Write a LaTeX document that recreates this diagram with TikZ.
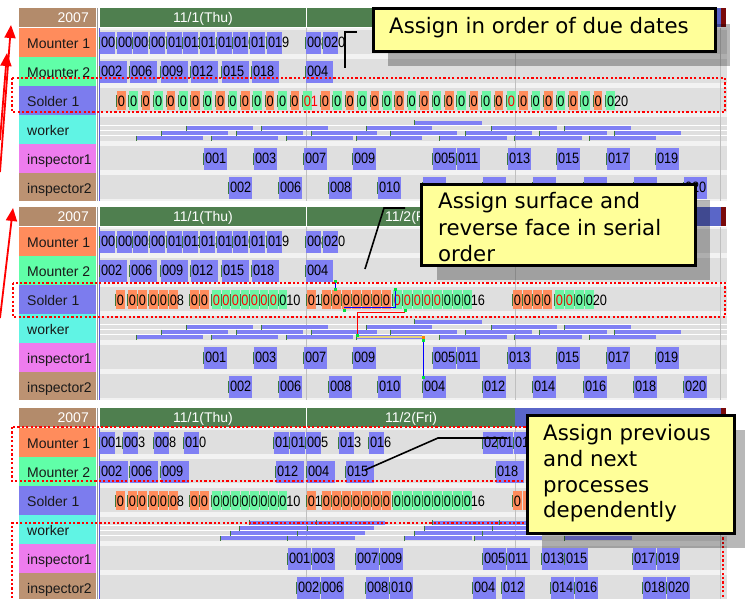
\documentclass[tikz,border=0pt]{standalone}
\usepackage{fontspec}
\setmainfont{Liberation Sans}
\newfontfamily\gfont[FakeStretch=0.85]{Liberation Sans}
\newfontfamily\cfont{DejaVu Sans}
\usetikzlibrary{arrows.meta}
\definecolor{vio}{HTML}{8080F4}
\definecolor{sorange}{HTML}{FF8C5C}
\definecolor{sgreen}{HTML}{6CF5A4}
\definecolor{lorange}{HTML}{FF8C5C}
\definecolor{lgreen}{HTML}{60FFA8}
\definecolor{lsolder}{HTML}{7C7CEE}
\definecolor{lworker}{HTML}{60F4E4}
\definecolor{linspa}{HTML}{EE7CEE}
\definecolor{linspb}{HTML}{BC9272}
\definecolor{hbrown}{HTML}{B38B6B}
\definecolor{hgreen}{HTML}{4F7F4F}
\definecolor{hblue}{HTML}{5A66C8}
\definecolor{hred}{HTML}{7A0A0A}
\definecolor{rowbg}{HTML}{F2F2F2}
\definecolor{band}{HTML}{DFDFDF}
\definecolor{tickc}{HTML}{3C7A3C}
\definecolor{cyel}{HTML}{FFFF99}
\definecolor{selg}{HTML}{00E040}
\definecolor{beige}{HTML}{E6D27A}
\definecolor{sepblue}{HTML}{5A5AE0}

\tikzset{
  gtxt/.style={anchor=base west, inner sep=0pt, font=\gfont\fontsize{15}{15}\selectfont},
  ltxt/.style={anchor=base west, inner sep=0pt, text=black!90, font=\fontsize{14}{14}\selectfont},
  htxt/.style={anchor=base, inner sep=0pt, text=white, font=\fontsize{14}{14}\selectfont},
  tick/.style={draw=tickc, line width=0.9pt},
  hl/.style={draw=red, line width=2.2pt, dash pattern=on 2.2pt off 2.2pt},
  callout/.style={draw=black, line width=2.5pt, fill=cyel, inner sep=0pt, anchor=north west},
  cshadow/.style={fill=black, fill opacity=0.28},
  ctext/.style={anchor=base west, inner sep=0pt, font=\cfont\fontsize{21.3}{26}\selectfont},
  pointer/.style={draw=black, line width=1.6pt},
  redarrow/.style={draw=red, line width=1.8pt, -{Triangle[length=13pt,width=11pt]}},
  gridl/.style={draw=black!25, line width=0.6pt},
}

% violet block: x, rowtop, width, fill, label
\newcommand\gb[5]{%
  \fill[#4] (#1,#2+4) rectangle ++(#3,21.5);
  \draw[tick] (#1-0.4,#2+9) -- ++(0,12);
  \node[gtxt] at (#1+0.8,#2+19) {#5};}
% block whose label is hidden behind a callout: x, rowtop, width
\newcommand\gbf[3]{%
  \fill[vio] (#1,#2+4) rectangle ++(#3,21.5);
  \draw[tick] (#1-0.4,#2+9) -- ++(0,12);}
% solder block: x, rowtop, width, fill, label, text colour
\newcommand\sbk[6]{%
  \fill[#4] (#1,#2+5) rectangle ++(#3,19);
  \draw[tick] (#1-0.5,#2+9) -- ++(0,12);
  \node[gtxt,text=#6] at (#1+0.6,#2+20) {#5};}
% worker bar: x1, x2, y
\newcommand\wb[3]{%
  \fill[vio] (#1,#3) rectangle (#2,#3+4);
  \draw[tick] (#1-0.4,#3-0.5) -- ++(0,5);}

\newcommand\pbase[1]{%
  \fill[hbrown] (19,8) rectangle (96,27);
  \node[ltxt,anchor=base east,text=white] (#1yr) at (89,22) {2007};
  \fill[hgreen] (100,8) rectangle (515,27);
  \fill[hblue] (515,8) rectangle (721,27);
  \fill[hred] (721,8) rectangle (726,27);
  \draw[white,line width=0.8pt] (306,8) -- (306,27);
  \node[htxt] (#1da) at (203,22) {11/1(Thu)};
  \fill[lorange] (19,28) rectangle (96,57);
  \fill[lgreen] (19,57) rectangle (96,86);
  \fill[lsolder] (19,86) rectangle (96,115);
  \fill[lworker] (19,115) rectangle (96,144);
  \fill[linspa] (19,144) rectangle (96,173);
  \fill[linspb] (19,173) rectangle (96,201);
  \node[ltxt] (#1la) at (27,48) {Mounter 1};
  \node[ltxt] (#1lb) at (27,77) {Mounter 2};
  \node[ltxt] (#1lc) at (27,106) {Solder 1};
  \node[ltxt] (#1ld) at (27,135) {worker};
  \node[ltxt] (#1le) at (27,164) {inspector1};
  \node[ltxt] (#1lf) at (27,193) {inspector2};
  \foreach \t in {28,57,86,115,144} {
    \fill[rowbg] (99,\t) rectangle (727,\t+29);
    \fill[band] (99,\t+2) rectangle (727,\t+26);}
  \fill[rowbg] (99,173) rectangle (727,201);
  \fill[band] (99,175) rectangle (727,199);
  \draw[white,line width=0.7pt] (99,125) -- (727,125) (99,130.5) -- (727,130.5) (99,135.5) -- (727,135.5);
  \draw[gridl] (306,28) -- (306,201) (515,28) -- (515,201) (720,28) -- (720,201);
  \draw[black!40,line width=1pt] (97,8) -- (97,201);
  \draw[sepblue,line width=1pt] (99,28) -- (99,201);}

\newcommand\mountersA{%
  \foreach \x/\l in {100/001,117/003,133/005,150/007,167/010,183/011,200/013,217/014,233/016,250/017,267/019,306/008,323/020} {\gb{\x}{28}{15}{vio}{\l}}
  \foreach \x/\l in {100/002,130/006,161/009,191/012,222/015,252/018,306/004} {\gb{\x}{57}{27}{vio}{\l}}}
\newcommand\mountersB{%
  \foreach \x/\l in {100/001,123/003,154/008,184/010,274/017,290/019,306/005,339/013,369/016,483/020,498/018,514/014} {\gb{\x}{28}{15}{vio}{\l}}
  \foreach \x/\l in {100/002,130/006,161/009,276/012,307/004,346/015,496/018} {\gb{\x}{57}{28}{vio}{\l}}}

\newcommand\workerA{%
  \wb{415}{482}{120.5}
  \foreach \a/\b in {187/253,262/328,367/432,492/557,565/631} {\wb{\a}{\b}{126}}
  \foreach \a/\b in {162/228,237/303,312/377,391/457,466/532,540/607,615/681} {\wb{\a}{\b}{131}}
  \foreach \a/\b in {137/203,212/278,287/353,357/422,440/507,515/582,590/656} {\wb{\a}{\b}{136}}}
\newcommand\workerB{%
  \foreach \a/\b in {250/317,317/385,433/500,500/566} {\wb{\a}{\b}{120.5}}
  \foreach \a/\b in {240/307,308/374,425/493,493/560} {\wb{\a}{\b}{126}}
  \foreach \a/\b in {231/297,298/365,415/482,483/548} {\wb{\a}{\b}{131}}
  \foreach \a/\b in {221/287,288/355,405/472,475/542,565/632} {\wb{\a}{\b}{136}}}

\newcommand\inspAa{%
  \foreach \x/\l in {204/001,254/003,304/007,353/009,433/005,457/011,508/013,557/015,607/017,656/019} {\gb{\x}{144}{23}{vio}{\l}}}
\newcommand\inspB{%
  \foreach \x/\l in {288/001,312/003,356/007,380/009,483/005,507/011,542/013,565/015,633/017,657/019} {\gb{\x}{144}{23}{vio}{\l}}
  \foreach \x/\l in {297/002,321/006,366/008,390/010,473/004,502/012,551/014,575/016,643/018,667/020} {\gb{\x}{173}{23}{vio}{\l}}}

\newcommand\solderA{%
  \foreach \i in {0,...,14} {\pgfmathsetmacro\xx{117+12.4*\i}\ifodd\i\relax\def\fc{sgreen}\else\def\fc{sorange}\fi\sbk{\xx}{86}{8.5}{\fc}{0}{black}}
  \sbk{303}{86}{8.5}{sgreen}{01}{red}
  \foreach \j in {0,...,22} {\pgfmathsetmacro\xx{321+12.4*\j}\ifnum\j=15\relax\def\tc{red}\else\def\tc{black}\fi\ifodd\j\relax\def\fc{sgreen}\else\def\fc{sorange}\fi\sbk{\xx}{86}{8.5}{\fc}{0}{\tc}}
  \sbk{606.2}{86}{8.5}{sgreen}{020}{black}}
\newcommand\solderBl[1]{%
  \foreach \x in {116,128,138,149,159} {\sbk{\x}{86}{8.5}{sorange}{0}{black}}
  \sbk{169}{86}{8.5}{sorange}{08}{black}
  \sbk{190}{86}{9}{sorange}{0}{black}
  \sbk{200}{86}{9}{sorange}{0}{black}
  \foreach \x in {212,221.5,231,240.5,250,259.5,269} {\sbk{\x}{86}{8.5}{sgreen}{0}{#1}}
  \sbk{278.5}{86}{8.5}{sgreen}{010}{black}
  \sbk{307}{86}{8.5}{sorange}{01}{black}
  \foreach \x in {322,332,342,352,362,372,382} {\sbk{\x}{86}{9}{sorange}{0}{black}}
  \foreach \x in {393,403,413,423,433} {\sbk{\x}{86}{9}{sgreen}{0}{#1}}
  \foreach \x in {443,453} {\sbk{\x}{86}{9}{sgreen}{0}{black}}
  \sbk{463}{86}{9}{sgreen}{016}{black}}
\newcommand\solderBr[1]{%
  \foreach \x in {513,523,533,543} {\sbk{\x}{86}{9}{sorange}{0}{black}}
  \foreach \x in {555,565} {\sbk{\x}{86}{9}{sgreen}{0}{#1}}
  \sbk{575}{86}{9}{sgreen}{0}{black}
  \sbk{585}{86}{9}{sgreen}{020}{black}}

\begin{document}
\begin{tikzpicture}[x=1pt,y=-1pt]
\useasboundingbox (0,0) rectangle (745,598);
\fill[white] (0,0) rectangle (745,598);

% ---------- panel 1 ----------
\begin{scope}
  \pbase{pa}
  \mountersA
  \solderA
  \workerA
  \inspAa
  \foreach \x/\l in {229/002,279/006,329/008,378/010} {\gb{\x}{173}{23}{vio}{\l}}
  \foreach \x in {423,483,533,584,634} {\gbf{\x}{173}{23}}
  \gb{684}{173}{23}{vio}{020}
\end{scope}

% ---------- panel 2 ----------
\begin{scope}[shift={(0,199)}]
  \pbase{pb}
  \node[htxt] (pbdb) at (411,22) {11/2(Fri)};
  \mountersA
  \solderBl{red}
  \solderBr{red}
  \workerA
  \inspAa
  \foreach \x/\l in {229/002,279/006,329/008,378/010,423/004,483/012,533/014,584/016,634/018,684/020} {\gb{\x}{173}{23}{vio}{\l}}
  % selection marks
  \draw[blue,line width=1pt] (335,82) -- (335,90);
  \draw[blue,line width=1pt] (344,108) -- (395,108) -- (395,90);
  \draw[red,line width=1pt] (405,113) -- (357,113) -- (357,136);
  \draw[beige,line width=1.2pt] (357,138) -- (423,138);
  \draw[blue,line width=1pt] (423,141) -- (423,178);
  \foreach \p in {(335,82),(335,90),(395,90),(344,111),(405,111),(357,136),(423,141),(423,178)} {\fill[selg] \p ++(-1.5,-1.5) rectangle ++(3,3);}
  \fill[orange] (421.5,136.5) rectangle ++(3,3);
\end{scope}

% ---------- panel 3 ----------
\begin{scope}[shift={(0,400)}]
  \pbase{pc}
  \node[htxt] (pcdb) at (411,22) {11/2(Fri)};
  \mountersB
  \solderBl{black}
  \sbk{513}{86}{9}{sorange}{0}{black}
  \fill[sorange] (523,91) rectangle ++(9,19);
  \workerB
  \inspB
\end{scope}

% ---------- red dotted highlights ----------
\draw[hl] (12,78) rectangle (725,112);
\draw[hl] (13,283) rectangle (725,317);
\draw[hl] (12,427) rectangle (723,481);
\draw[hl] (723,610) -- (723,523) -- (12,523) -- (12,610);

% ---------- red arrows ----------
\coordinate (ra1) at (0,172); \coordinate (ra2) at (11,25);
\coordinate (rb1) at (0,140); \coordinate (rb2) at (7,53);
\coordinate (rc1) at (0,318); \coordinate (rc2) at (13,208);
\draw[redarrow] (ra1) -- (ra2);
\draw[redarrow] (rb1) -- (rb2);
\draw[redarrow] (rc1) -- (rc2);

% ---------- pointers ----------
\coordinate (pa1) at (357,32); \coordinate (pa2) at (345,32); \coordinate (pa3) at (345,68);
\coordinate (pb1) at (405,208); \coordinate (pb2) at (384,208); \coordinate (pb3) at (365,269);
\coordinate (pc1) at (507,438); \coordinate (pc2) at (438,438); \coordinate (pc3) at (365,470);
\draw[pointer] (pa1) -- (pa2) -- (pa3);
\draw[pointer] (pb1) -- (pb2) -- (pb3);
\draw[pointer] (pc1) -- (pc2) -- (pc3);

% ---------- callouts ----------
\fill[cshadow] (388,24) rectangle (730,66);
\node[callout, minimum width=342pt, minimum height=43pt] (ca) at (372,7) {};
\node[ctext] (cat) at (389,33) {Assign in order of due dates};

\fill[cshadow] (437,200) rectangle (710,280);
\node[callout, minimum width=274pt, minimum height=81pt] (cb) at (420,183) {};
\node[ctext] (cbt1) at (438,208) {Assign surface and};
\node[ctext] (cbt2) at (438,235) {reverse face in serial};
\node[ctext] (cbt3) at (438,261) {order};

\fill[cshadow] (542,430) rectangle (745,548);
\node[callout, minimum width=207pt, minimum height=118pt] (cc) at (526,414) {};
\node[ctext] (cct1) at (543,440) {Assign previous};
\node[ctext] (cct2) at (543,466) {and next};
\node[ctext] (cct3) at (543,492) {processes};
\node[ctext] (cct4) at (543,517) {dependently};
\end{tikzpicture}
\end{document}
